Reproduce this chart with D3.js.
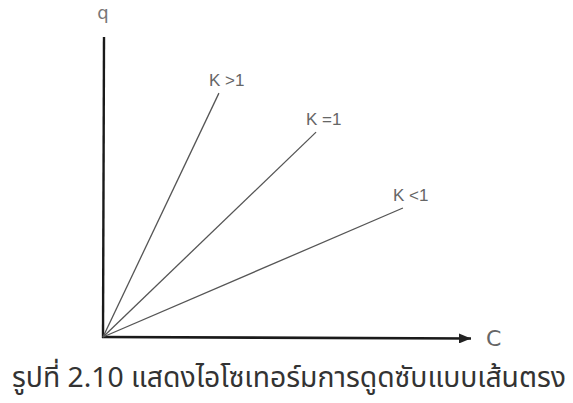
<!DOCTYPE html>
<html>
<head>
<meta charset="utf-8">
<script src="https://cdn.jsdelivr.net/npm/d3@7"></script>
<style>
  html, body { margin: 0; padding: 0; background: #fff; }
  svg { display: block; }
</style>
</head>
<body>
<svg id="chart" width="573" height="403"></svg>
<script>
// Linear isotherm lines: end point of each line in (C, q) units
const seriesLabels = ["K >1", "K =1", "K <1"];
const cEnd = [3.15, 5.79, 8.15];
const qEnd = [8.13, 6.83, 4.30];
const axisLabels = { x: "C", y: "q" };
const caption = "รูปที่ 2.10 แสดงไอโซเทอร์มการดูดซับแบบเส้นตรง";

const svg = d3.select("#chart");
const x = d3.scaleLinear().domain([0, 10]).range([103, 471]);
const y = d3.scaleLinear().domain([0, 10]).range([337, 37]);

svg.append("defs").append("marker")
  .attr("id", "arrow")
  .attr("viewBox", "0 0 12 10")
  .attr("refX", 12).attr("refY", 5)
  .attr("markerWidth", 12).attr("markerHeight", 10)
  .attr("markerUnits", "userSpaceOnUse")
  .attr("orient", "auto")
  .append("path").attr("d", "M0,0 L12,5 L0,10 Z").attr("fill", "#222");

// axes
svg.append("line")
  .attr("x1", x(0)).attr("y1", y(0) + 1)
  .attr("x2", x(0) + 1).attr("y2", y(10))
  .attr("stroke", "#1a1a1a").attr("stroke-width", 2.4);
svg.append("line")
  .attr("x1", x(0) - 1).attr("y1", y(0))
  .attr("x2", x(10)).attr("y2", y(0) + 1.5)
  .attr("stroke", "#1a1a1a").attr("stroke-width", 2.6)
  .attr("marker-end", "url(#arrow)");

// isotherm lines
const lines = d3.range(seriesLabels.length).map(i => ({ label: seriesLabels[i], c: cEnd[i], q: qEnd[i] }));
svg.selectAll("line.iso").data(lines).join("line")
  .attr("class", "iso")
  .attr("x1", x(0)).attr("y1", y(0))
  .attr("x2", d => x(d.c)).attr("y2", d => y(d.q))
  .attr("stroke", "#555").attr("stroke-width", 1.3);

svg.selectAll("text.iso").data(lines).join("text")
  .attr("class", "iso")
  .attr("x", d => x(d.c) - 10)
  .attr("y", d => y(d.q) - 7)
  .attr("font-family", "'Liberation Sans', sans-serif")
  .attr("font-size", 17)
  .attr("fill", "#666")
  .text(d => d.label);

svg.append("text")
  .attr("x", x(0)).attr("y", 19)
  .attr("text-anchor", "middle")
  .attr("font-family", "'DejaVu Sans', sans-serif")
  .attr("font-size", 18).attr("fill", "#777")
  .text(axisLabels.y);

svg.append("text")
  .attr("x", 486).attr("y", 346)
  .attr("font-family", "'DejaVu Sans', sans-serif")
  .attr("font-size", 22).attr("fill", "#666")
  .text(axisLabels.x);

svg.append("text")
  .attr("x", 12).attr("y", 387)
  .attr("font-family", "'Noto Sans', 'Noto Sans Thai', sans-serif")
  .attr("font-size", 28).attr("fill", "#333")
  .attr("textLength", 554).attr("lengthAdjust", "spacingAndGlyphs")
  .text(caption);
</script>
</body>
</html>
